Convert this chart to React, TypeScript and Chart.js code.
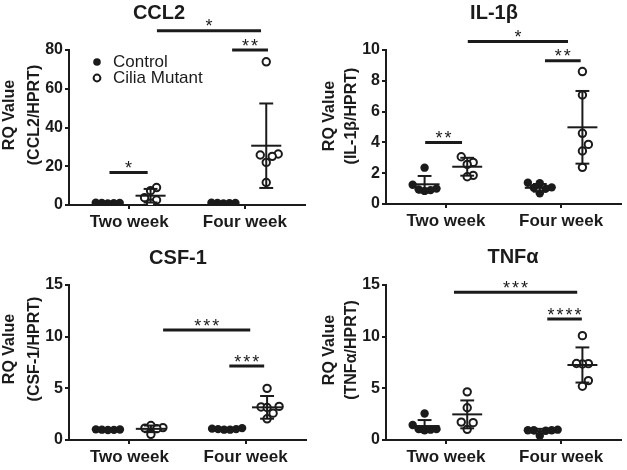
import React, { useEffect, useRef } from 'react';
import { Chart, registerables } from 'chart.js';
Chart.register(...registerables);

const INK = '#1b1b1b';
const FONT = '"Liberation Sans", Arial, Helvetica, sans-serif';

const categories = ['Two week', 'Four week'];
const seriesNames = ['Control', 'Cilia Mutant'];

// ---- CCL2 ----
const ccl2Control = [[1.2, 1.0, 0.9, 1.1, 0.8], [1.0, 1.2, 0.9, 1.1, 0.8]];
const ccl2Mutant = [[9.0, 7.4, 3.8, 2.6, 0.9], [73.9, 26.3, 25.8, 25.1, 22.0, 11.6]];
const ccl2ControlMean = [1.0, 1.0];
const ccl2ControlSd = [0.15, 0.15];
const ccl2MutantMean = [4.8, 30.6];
const ccl2MutantSd = [3.5, 21.8];
const ccl2Sig: [number, number, number, string][] = [[-0.17, 0.16, 16.8, '*'], [0.89, 1.2, 80, '**'], [0.24, 1.14, 90, '*']];

// ---- IL-1β ----
const il1bControl = [[2.36, 1.25, 1.0, 0.9, 0.85, 0.95], [1.38, 1.35, 1.08, 1.05, 1.0, 0.69]];
const il1bMutant = [[3.07, 2.7, 2.57, 1.86, 1.77], [8.6, 7.08, 4.59, 3.87, 3.44, 2.38]];
const il1bControlMean = [1.28, 1.05];
const il1bControlSd = [0.54, 0.25];
const il1bMutantMean = [2.42, 4.98];
const il1bMutantSd = [0.58, 2.36];
const il1bSig: [number, number, number, string][] = [[-0.18, 0.14, 4.0, '**'], [0.86, 1.17, 9.3, '**'], [0.19, 1.06, 10.55, '*']];

// ---- CSF-1 ----
const csfControl = [[1.02, 0.98, 1.0, 1.03, 0.97], [1.1, 1.05, 1.0, 1.15, 1.0, 1.05]];
const csfMutant = [[1.4, 1.2, 1.1, 1.15, 0.55], [5.0, 3.2, 3.15, 3.25, 2.05, 2.6]];
const csfControlMean = [1.0, 1.06];
const csfControlSd = [0.03, 0.06];
const csfMutantMean = [1.08, 3.16];
const csfMutantSd = [0.32, 1.1];
const csfSig: [number, number, number, string][] = [[0.29, 1.04, 10.64, '***'], [0.86, 1.16, 7.16, '***']];

// ---- TNFα ----
const tnfControl = [[2.57, 1.45, 1.05, 1.0, 0.95, 1.05], [0.95, 1.0, 0.95, 0.9, 0.4, 0.95]];
const tnfMutant = [[4.66, 3.12, 1.73, 1.68, 1.03], [10.1, 7.39, 7.35, 7.4, 5.75, 5.2]];
const tnfControlMean = [1.35, 0.86];
const tnfControlSd = [0.58, 0.22];
const tnfMutantMean = [2.48, 7.26];
const tnfMutantSd = [1.35, 1.7];
const tnfSig: [number, number, number, string][] = [[0.07, 1.14, 14.3, '***'], [0.88, 1.18, 11.7, '****']];

type Panel = {
  title: string; yLabel: string; yMax: number; yStep: number;
  control: number[][]; mutant: number[][];
  cMean: number[]; cSd: number[]; mMean: number[]; mSd: number[];
  sig: [number, number, number, string][];
  legend: boolean;
  box: { left: number; top: number; w: number; h: number };
  lay: { yw: number; padR: number; top: number; xh: number; tx: number; ty: number; l1: number; l2: number; ly: number };
};

const panels: Panel[] = [
  { title: 'CCL2', yLabel: '(CCL2/HPRT)', yMax: 80, yStep: 20, control: ccl2Control, mutant: ccl2Mutant,
    cMean: ccl2ControlMean, cSd: ccl2ControlSd, mMean: ccl2MutantMean, mSd: ccl2MutantSd, sig: ccl2Sig, legend: true,
    box: { left: 0, top: 0, w: 313, h: 235 },
    lay: { yw: 69, padR: 8, top: 50, xh: 30, tx: 159, ty: 13, l1: 10, l2: 35, ly: 115 } },
  { title: 'IL-1β', yLabel: '(IL-1β/HPRT)', yMax: 10, yStep: 2, control: il1bControl, mutant: il1bMutant,
    cMean: il1bControlMean, cSd: il1bControlSd, mMean: il1bMutantMean, mSd: il1bMutantSd, sig: il1bSig, legend: false,
    box: { left: 313, top: 0, w: 314, h: 235 },
    lay: { yw: 73, padR: 2, top: 50, xh: 31, tx: 181, ty: 13, l1: 17, l2: 39, ly: 116 } },
  { title: 'CSF-1', yLabel: '(CSF-1/HPRT)', yMax: 15, yStep: 5, control: csfControl, mutant: csfMutant,
    cMean: csfControlMean, cSd: csfControlSd, mMean: csfMutantMean, mSd: csfMutantSd, sig: csfSig, legend: false,
    box: { left: 0, top: 235, w: 313, h: 235 },
    lay: { yw: 69, padR: 7, top: 50, xh: 30, tx: 178, ty: 23, l1: 10, l2: 35, ly: 114 } },
  { title: 'TNFα', yLabel: '(TNFα/HPRT)', yMax: 15, yStep: 5, control: tnfControl, mutant: tnfMutant,
    cMean: tnfControlMean, cSd: tnfControlSd, mMean: tnfMutantMean, mSd: tnfMutantSd, sig: tnfSig, legend: false,
    box: { left: 313, top: 235, w: 314, h: 235 },
    lay: { yw: 73, padR: 1, top: 50, xh: 30, tx: 200, ty: 22, l1: 17, l2: 39, ly: 115 } },
];

const GROUP_SHIFT = 0.185;
const X_MIN = -0.52;
const X_MAX = 1.52;

// simple beeswarm spread (in x units) so overlapping points sit side by side
function swarm(values: number[], yMax: number): number[] {
  const pyu = 155 / yMax;
  const pxu = 116;
  const dx = 6;
  const dy = 8.5;
  const order = values.map((_, i) => i).sort((a, b) => values[a] - values[b]);
  const placed: { x: number; y: number }[] = [];
  const off = new Array(values.length).fill(0);
  for (const i of order) {
    const y = values[i] * pyu;
    for (let k = 0; k < 30; k++) {
      const s = k === 0 ? 0 : (k % 2 ? 1 : -1) * Math.ceil(k / 2);
      const x = s * dx;
      if (placed.every((p) => Math.abs(p.x - x) >= dx - 0.01 || Math.abs(p.y - y) >= dy)) {
        placed.push({ x, y });
        off[i] = x / pxu;
        break;
      }
    }
  }
  return off;
}

function toPoints(groups: number[][], shift: number, yMax: number) {
  return groups.flatMap((vals, c) => {
    const off = swarm(vals, yMax);
    return vals.map((v, i) => ({ x: c + shift + off[i], y: v }));
  });
}

function makeDecor(p: Panel) {
  return {
    id: 'decor',
    afterDatasetsDraw(chart: any) {
      const { ctx } = chart;
      const x = chart.scales.x;
      const y = chart.scales.y;
      const X = (v: number) => x.getPixelForValue(v);
      const Y = (v: number) => y.getPixelForValue(v);
      ctx.save();
      ctx.strokeStyle = INK;
      ctx.lineCap = 'butt';
      const line = (x1: number, y1: number, x2: number, y2: number) => {
        ctx.beginPath(); ctx.moveTo(x1, y1); ctx.lineTo(x2, y2); ctx.stroke();
      };
      ctx.lineWidth = 2;
      const groups: [number, number[], number[]][] = [[-GROUP_SHIFT, p.cMean, p.cSd], [GROUP_SHIFT, p.mMean, p.mSd]];
      for (const [shift, means, sds] of groups) {
        for (let c = 0; c < categories.length; c++) {
          const cx = c + shift;
          const m = means[c]; const s = sds[c];
          line(X(cx - 0.13), Y(m), X(cx + 0.13), Y(m));
          line(X(cx), Y(m - s), X(cx), Y(m + s));
          line(X(cx - 0.06), Y(m + s), X(cx + 0.06), Y(m + s));
          line(X(cx - 0.06), Y(m - s), X(cx + 0.06), Y(m - s));
        }
      }
      ctx.lineWidth = 3;
      ctx.fillStyle = INK;
      ctx.font = `18px ${FONT}`;
      ctx.textAlign = 'center';
      ctx.textBaseline = 'alphabetic';
      for (const [a, b, v, lab] of p.sig) {
        const py = Y(v);
        line(X(a), py, X(b), py);
        const mid = (X(a) + X(b)) / 2;
        const n = lab.length;
        for (let i = 0; i < n; i++) {
          ctx.fillText('*', mid + (i - (n - 1) / 2) * 9, py + 1.5);
        }
      }
      ctx.restore();
    },
    afterDraw(chart: any) {
      const { ctx } = chart;
      const L = p.lay;
      ctx.save();
      ctx.fillStyle = INK;
      ctx.textAlign = 'center';
      ctx.textBaseline = 'middle';
      ctx.font = `bold 20px ${FONT}`;
      ctx.fillText(p.title, L.tx, L.ty);
      ctx.font = `bold 16px ${FONT}`;
      ctx.save();
      ctx.translate(L.l1, L.ly); ctx.rotate(-Math.PI / 2); ctx.fillText('RQ Value', 0, 0);
      ctx.restore();
      ctx.save();
      ctx.translate(L.l2, L.ly); ctx.rotate(-Math.PI / 2); ctx.fillText(p.yLabel, 0, 0);
      ctx.restore();
      if (p.legend) {
        ctx.textAlign = 'left';
        ctx.font = `17px ${FONT}`;
        ctx.beginPath(); ctx.arc(97, 62, 3.8, 0, Math.PI * 2); ctx.fill();
        ctx.lineWidth = 2; ctx.strokeStyle = INK;
        ctx.beginPath(); ctx.arc(97, 78, 3.4, 0, Math.PI * 2); ctx.stroke();
        ctx.fillText(seriesNames[0], 113, 62);
        ctx.fillText(seriesNames[1], 113, 78.5);
      }
      ctx.restore();
    },
  };
}

function PanelChart({ p }: { p: Panel }) {
  const ref = useRef<HTMLCanvasElement | null>(null);
  useEffect(() => {
    if (!ref.current) return;
    const L = p.lay;
    const axisGrid = { drawOnChartArea: false, drawTicks: true, tickLength: 4, tickWidth: 2, color: INK, lineWidth: 2 };
    const axisBorder = { display: true, color: INK, width: 2 };
    const chart = new Chart(ref.current, {
      type: 'scatter',
      data: {
        datasets: [
          { label: seriesNames[0], data: toPoints(p.control, -GROUP_SHIFT, p.yMax), pointRadius: 4.2, pointBackgroundColor: INK, pointBorderWidth: 0, pointBorderColor: INK },
          { label: seriesNames[1], data: toPoints(p.mutant, GROUP_SHIFT, p.yMax), pointRadius: 3.7, pointBackgroundColor: '#ffffff', pointBorderColor: INK, pointBorderWidth: 2 },
        ],
      },
      options: {
        animation: false,
        responsive: false,
        devicePixelRatio: 1,
        layout: { padding: { left: 0, right: L.padR, top: L.top, bottom: 0 } },
        plugins: { legend: { display: false }, tooltip: { enabled: false }, title: { display: false } },
        scales: {
          x: {
            type: 'linear', min: X_MIN, max: X_MAX,
            afterBuildTicks: (s: any) => { s.ticks = categories.map((_, i) => ({ value: i })); },
            afterFit: (s: any) => { s.height = L.xh; },
            ticks: { callback: (v: any) => categories[Math.round(v)], color: INK, font: { family: FONT, size: 17, weight: 'bold' }, padding: 3, maxRotation: 0, autoSkip: false },
            grid: axisGrid, border: axisBorder,
          },
          y: {
            min: 0, max: p.yMax,
            afterFit: (s: any) => { s.width = L.yw; },
            ticks: { stepSize: p.yStep, color: INK, font: { family: FONT, size: 16, weight: 'bold' }, padding: 2 },
            grid: axisGrid, border: axisBorder,
          },
        },
      } as any,
      plugins: [makeDecor(p)],
    });
    return () => chart.destroy();
  }, [p]);
  return (
    <canvas ref={ref} width={p.box.w} height={p.box.h}
      style={{ position: 'absolute', left: p.box.left, top: p.box.top, width: p.box.w, height: p.box.h }} />
  );
}

export default function App() {
  return (
    <div style={{ position: 'absolute', left: 0, top: 0, width: 627, height: 470, background: '#ffffff' }}>
      {panels.map((p) => <PanelChart key={p.title} p={p} />)}
    </div>
  );
}
